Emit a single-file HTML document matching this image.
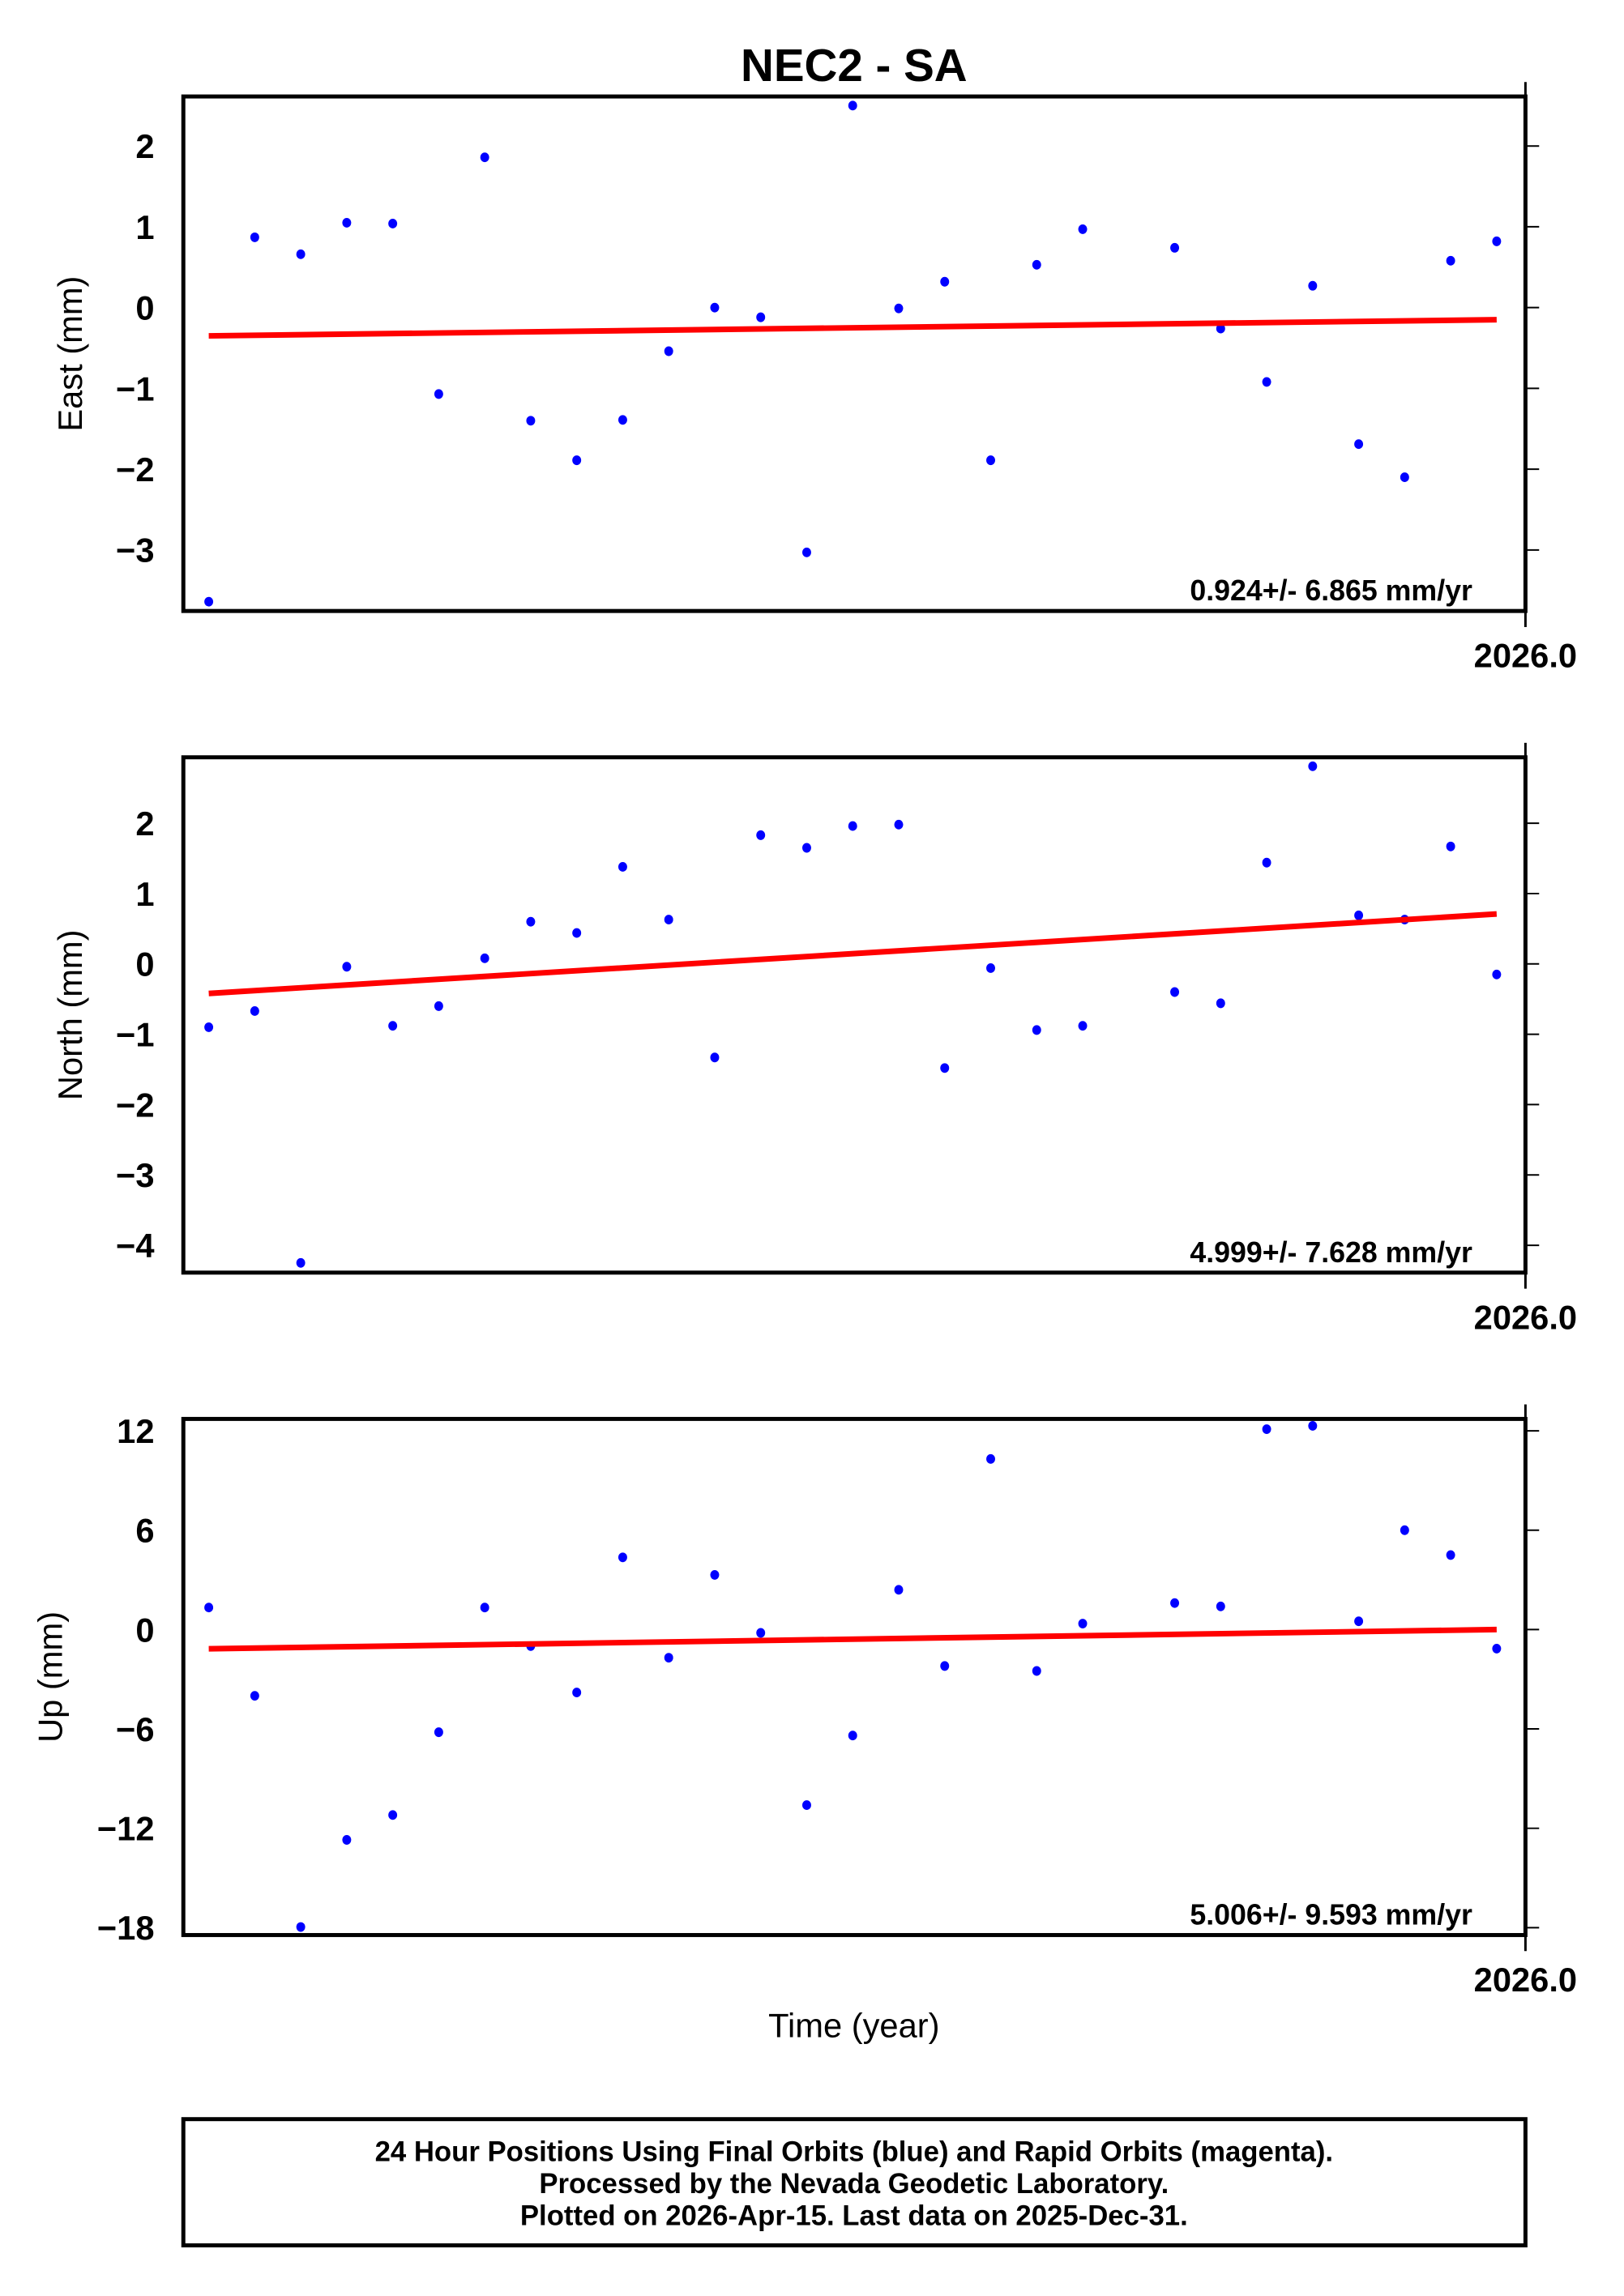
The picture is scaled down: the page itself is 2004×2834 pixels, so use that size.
<!DOCTYPE html>
<html><head><meta charset="utf-8"><style>
body{margin:0;background:#fff}
svg{display:block;font-family:"Liberation Sans",sans-serif}
</style></head><body>
<svg id="c" width="2004" height="2834" viewBox="0 0 2004 2834"><g id="w" transform="scale(0.9923)"></g></svg>
<script>
const idx=[0,1,2,3,4,5,6,7,8,9,10,11,12,13,14,15,16,17,18,19,21,22,23,24,25,26,27,28];
const eastVals=[-3.64,0.87,0.66,1.05,1.04,-1.07,1.86,-1.40,-1.89,-1.39,-0.54,0.0,-0.12,-3.03,2.5,-0.01,0.32,-1.89,0.53,0.97,0.74,-0.26,-0.92,0.27,-1.69,-2.10,0.58,0.82];
const northVals=[-0.90,-0.67,-4.25,-0.04,-0.88,-0.60,0.08,0.60,0.44,1.38,0.63,-1.33,1.83,1.65,1.96,1.98,-1.48,-0.06,-0.94,-0.88,-0.40,-0.56,1.44,2.81,0.69,0.63,1.67,-0.15];
const upVals=[1.33,-4.0,-17.96,-12.7,-11.2,-6.2,1.33,-1.0,-3.8,4.36,-1.7,3.3,-0.2,-10.6,-6.4,2.4,-2.2,10.3,-2.5,0.36,1.6,1.4,12.1,12.3,0.5,6.0,4.5,-1.15];
const eastTrend=[-0.35,-0.15];
const northTrend=[-0.42,0.71];
const upTrend=[-1.16,0.0];
const eastTicks=[2,1,0,-1,-2,-3];
const northTicks=[2,1,0,-1,-2,-3,-4];
const upTicks=[12,6,0,-6,-12,-18];
const rates=["0.924+/- 6.865 mm/yr","4.999+/- 7.628 mm/yr","5.006+/- 9.593 mm/yr"];
const titles=["East (mm)","North (mm)","Up (mm)"];

const NS="http://www.w3.org/2000/svg";
const svg=document.getElementById('w');
function mk(tag,attrs,parent){const e=document.createElementNS(NS,tag);for(const k in attrs)e.setAttribute(k,attrs[k]);(parent||svg).appendChild(e);return e;}
const L=228,R=1897;
const xs=i=>259.6+i*57.2;

const panels=[
 {top:120,bot:760,v0:382.6,ppu:100.5,vals:eastVals,trend:eastTrend,ticks:eastTicks,tx:102,name:'east'},
 {top:942,bot:1583,v0:1199,ppu:87.5,vals:northVals,trend:northTrend,ticks:northTicks,tx:102,name:'north'},
 {top:1765,bot:2407,v0:2027,ppu:20.6,vals:upVals,trend:upTrend,ticks:upTicks,tx:77,name:'up'}
];
panels.forEach((p,pi)=>{
 const g=mk('g',{});
 
 
 const ys=v=>p.v0-v*p.ppu;
 p.ticks.forEach(t=>{
  const y=ys(t);
  const tk=mk('line',{x1:R,x2:R+17,y1:y,y2:y,stroke:'#000','stroke-width':2},g);
  
  
  const lb=mk('text',{x:192,y:y+15,'text-anchor':'end','font-size':42,'font-weight':'bold'},g);
  lb.textContent=(t<0?'\u2212'+(-t):String(t));
  
  
 });
 const at=mk('text',{x:p.tx,y:(p.top+p.bot)/2,'text-anchor':'middle','font-size':42,transform:`rotate(-90 ${p.tx} ${(p.top+p.bot)/2})`},g);
 at.textContent=titles[pi];
 
 
 const xt=mk('line',{x1:R,x2:R,y1:p.top-18,y2:p.bot+20,stroke:'#000','stroke-width':3},g);
 
 
 const xl=mk('text',{x:R,y:p.bot+70,'text-anchor':'middle','font-size':42,'font-weight':'bold'},g);
 xl.textContent='2026.0';
 
 
 idx.forEach((i,k)=>{
  const d=mk('ellipse',{cx:xs(i),cy:ys(p.vals[k]),rx:5.5,ry:6,fill:'#0000ff'},g);
  
  
 });
 const tl=mk('line',{x1:xs(0),y1:ys(p.trend[0]),x2:xs(28),y2:ys(p.trend[1]),stroke:'#ff0000','stroke-width':7},g);
 
 
 const fr=mk('rect',{x:L,y:p.top,width:R-L,height:p.bot-p.top,fill:'none',stroke:'#000','stroke-width':5},g);
 
 
 const rt=mk('text',{x:1831,y:p.bot-13,'text-anchor':'end','font-size':36,'font-weight':'bold'},g);
 rt.textContent=rates[pi];
 
 
});
const title=mk('text',{x:1062,y:101,'text-anchor':'middle','font-size':57,'font-weight':'bold'});
title.textContent='NEC2 - SA';


const xat=mk('text',{x:1062,y:2534,'text-anchor':'middle','font-size':42});
xat.textContent='Time (year)';


const fb=mk('rect',{x:L,y:2636,width:R-L,height:157,fill:'none',stroke:'#000','stroke-width':5});


const lines=["24 Hour Positions Using Final Orbits (blue) and Rapid Orbits (magenta).","Processed by the Nevada Geodetic Laboratory.","Plotted on 2026-Apr-15. Last data on 2025-Dec-31."];
lines.forEach((s,i)=>{
 const t=mk('text',{x:1062,y:2688+i*40,'text-anchor':'middle','font-size':35,'font-weight':'bold'});
 t.textContent=s;
 
 
});
</script>
</body></html>
